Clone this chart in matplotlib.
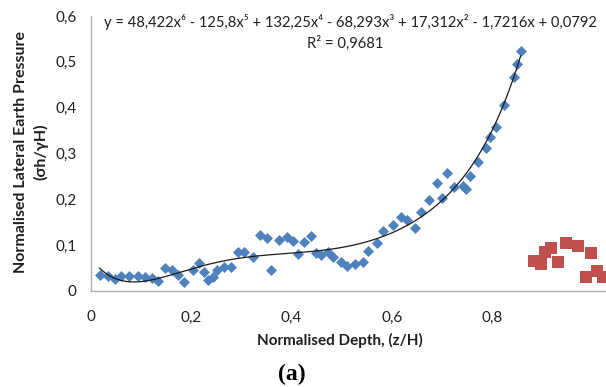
import numpy as np
import matplotlib
matplotlib.use("Agg")
import matplotlib.pyplot as plt

plt.rcParams['font.family'] = ['Lato', 'DejaVu Sans']

# Normalised depth (z/H) and normalised lateral earth pressure (sigma_h / gamma H)
depth = [0.018, 0.034, 0.048, 0.060, 0.076, 0.094, 0.109, 0.123, 0.135, 0.149,
         0.163, 0.175, 0.187, 0.203, 0.215, 0.225, 0.233, 0.243, 0.251, 0.265,
         0.279, 0.293, 0.306, 0.324, 0.338, 0.352, 0.360, 0.376, 0.392, 0.402,
         0.412, 0.424, 0.438, 0.448, 0.458, 0.472, 0.482, 0.498, 0.511, 0.527,
         0.543, 0.553, 0.571, 0.583, 0.601, 0.617, 0.629, 0.645, 0.657, 0.673,
         0.689, 0.699, 0.710, 0.724, 0.742, 0.748, 0.756, 0.772, 0.788, 0.796,
         0.806, 0.822, 0.842, 0.848, 0.856]
pressure = [0.035, 0.033, 0.026, 0.033, 0.033, 0.033, 0.031, 0.028, 0.022, 0.050,
            0.046, 0.035, 0.020, 0.046, 0.061, 0.041, 0.024, 0.031, 0.046, 0.052,
            0.052, 0.085, 0.085, 0.074, 0.122, 0.116, 0.046, 0.111, 0.118, 0.109,
            0.081, 0.107, 0.120, 0.083, 0.079, 0.085, 0.074, 0.063, 0.055, 0.059,
            0.063, 0.087, 0.105, 0.131, 0.144, 0.162, 0.155, 0.138, 0.172, 0.199,
            0.236, 0.203, 0.258, 0.227, 0.229, 0.223, 0.251, 0.282, 0.312, 0.336,
            0.358, 0.406, 0.467, 0.496, 0.524]

# Second data set (red squares)
depth_b = [0.882, 0.896, 0.905, 0.917, 0.931, 0.947, 0.971, 0.997, 0.987, 1.007, 1.019]
pressure_b = [0.066, 0.059, 0.085, 0.094, 0.063, 0.105, 0.098, 0.083, 0.031, 0.044, 0.031]

y_ticks = [0, 0.1, 0.2, 0.3, 0.4, 0.5, 0.6]
y_tick_labels = ["0", "0,1", "0,2", "0,3", "0,4", "0,5", "0,6"]
x_ticks = [0, 0.2, 0.4, 0.6, 0.8]
x_tick_labels = ["0", "0,2", "0,4", "0,6", "0,8"]

equation = ("y = 48,422x\u2076 - 125,8x\u2075 + 132,25x\u2074 - 68,293x\u00b3 "
            "+ 17,312x\u00b2 - 1,7216x + 0,0792")
r_squared = "R\u00b2 = 0,9681"

W, H = 606, 387
fig = plt.figure(figsize=(W / 100, H / 100), dpi=100)
x0_px, y0_px, top_px = 90.5, 291, 16
ax = fig.add_axes([x0_px / W, 1 - y0_px / H, (W - x0_px) / W, (y0_px - top_px) / H])
ax.set_xlim(0, (W - x0_px) / 502.5)
ax.set_ylim(0, 0.6)

blue = "#4F81BD"
red = "#C0504D"

ax.scatter(depth_b, pressure_b, marker="s", s=8.0 ** 2, color=red, linewidths=0, zorder=3)
ax.scatter(depth, pressure, marker="D", s=5.6 ** 2, color=blue, linewidths=0, zorder=3)

# 6th-order polynomial trendline
coef = np.polyfit(depth, pressure, 6)
xs = np.linspace(min(depth), max(depth), 300)
ax.plot(xs, np.polyval(coef, xs), color="#1a1a1a", lw=0.9, zorder=4)

for side in ("top", "right"):
    ax.spines[side].set_visible(False)
for side in ("left", "bottom"):
    ax.spines[side].set_color("#B0B0B0")
    ax.spines[side].set_linewidth(1.0)

ax.set_yticks(y_ticks, y_tick_labels)
ax.set_xticks(x_ticks, x_tick_labels)
ax.tick_params(axis="y", length=0, pad=10, labelsize=11, labelcolor="#202020")
ax.tick_params(axis="x", length=0, pad=14, labelsize=11, labelcolor="#202020")

fig.text(104 / W, 1 - 22 / H, equation, ha="left", va="center", fontsize=10.6, color="#202020")
fig.text(345 / W, 1 - 43 / H, r_squared, ha="center", va="center", fontsize=10.6, color="#202020")

fig.text(340 / W, 1 - 340 / H, "Normalised Depth, (z/H)", ha="center", va="center",
         fontsize=11, fontweight="bold", color="#202020")
fig.text(21 / W, 1 - 152 / H, "Normalised Lateral Earth Pressure", ha="center", va="center",
         rotation=90, fontsize=11.5, fontweight="bold", color="#202020")
fig.text(41 / W, 1 - 152 / H, "(\u03c3h/\u03b3H)", ha="center", va="center",
         rotation=90, fontsize=11.5, fontweight="bold", color="#202020")
fig.text(292 / W, 1 - 374 / H, "(a)", ha="center", va="center",
         fontsize=17, fontweight="bold", family=["Liberation Serif", "DejaVu Serif"], color="black")

fig.savefig("out.png", dpi=100, facecolor="white")
